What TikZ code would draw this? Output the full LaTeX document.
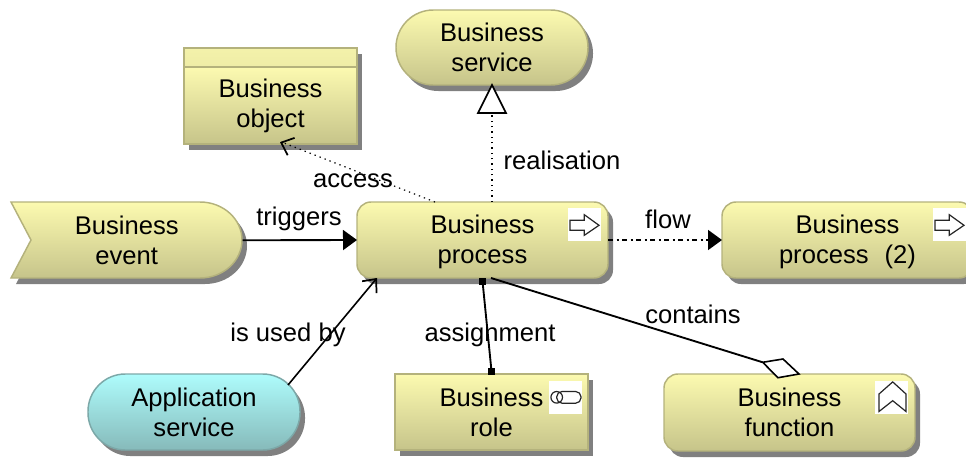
\documentclass[tikz,border=0pt]{standalone}
\usepackage{fontspec}
\setmainfont{Liberation Sans}
\usetikzlibrary{arrows.meta,shadows,calc}
\definecolor{yeltop}{HTML}{FCFAB0}
\definecolor{yelbot}{HTML}{C6C48A}
\definecolor{yeledge}{HTML}{B4B27C}
\definecolor{cyatop}{HTML}{AEFCFC}
\definecolor{cyabot}{HTML}{86BABA}
\definecolor{cyaedge}{HTML}{7CA8A8}
\definecolor{shadowgrey}{HTML}{808080}
\tikzset{
  txt/.style={font=\fontsize{19.2}{22.5}\selectfont, align=center, inner sep=0pt, text=black},
  boxbase/.style={txt, anchor=north west, outer sep=0pt, line width=1.1pt,
     general shadow={fill=shadowgrey, shadow xshift=3.75pt, shadow yshift=-4.5pt}},
  yelbox/.style={boxbase, draw=yeledge, top color=yeltop, bottom color=yelbot},
  roundbox/.style={yelbox, rounded corners=10.5pt},
  pillbox/.style={rounded corners=28pt},
  iconbg/.style={fill=white, draw=none},
  iconline/.style={draw=black!85, line width=0.9pt, line join=miter},
  conn/.style={draw=black, line width=1.4pt},
  dotconn/.style={draw=black, line width=0.9pt, dash pattern=on 1pt off 3pt},
  flowconn/.style={draw=black, line width=1.3pt, dash pattern=on 4pt off 2.5pt on 1.5pt off 2.5pt},
  solidtip/.style={-{Triangle[length=10.5pt,width=15pt]}},
  barbtip/.style={-{Straight Barb[length=8pt,width=14pt,line width=1.3pt]}},
  procicon/.pic={
    \fill[iconbg] (0,0) rectangle (33,33);
    \draw[iconline] (2,12.3)--(16.3,12.3)--(16.3,6.7)--(31,17.3)--(16.3,27.3)--(16.3,22.3)--(2,22.3)--cycle;
  },
  funcicon/.pic={
    \fill[iconbg] (0,0) rectangle (33,33);
    \draw[iconline] (4,30.5)--(4,13)--(17.7,0.9)--(31,13)--(31,30.5)--(17.7,19.7)--cycle;
  },
  roleicon/.pic={
    \fill[iconbg] (0,0) rectangle (33,33);
    \draw[iconline] (7.7,16.3) circle[radius=5.8];
    \draw[iconline, rounded corners=4pt] (7.7,10.5) rectangle (32,22.2);
  },
}
\begin{document}
\begin{tikzpicture}[x=0.75pt,y=-0.75pt]
\useasboundingbox (0,0) rectangle (966,457);
% Business event: drawn directly (notched shape)
\fill[shadowgrey] (16,208) -- (205,208) arc[start angle=-90,end angle=90,x radius=42,y radius=38] -- (16,284) -- (36,246) -- cycle;
\path[draw=yeledge, line width=1.1pt, top color=yeltop, bottom color=yelbot]
  (11,202) -- (200,202) arc[start angle=-90,end angle=90,x radius=42,y radius=38] -- (11,278) -- (31,240) -- cycle;
\node[txt, minimum width=173.25pt, minimum height=57pt, anchor=north west] (event) at (11,202) {Business\\event};
% boxes
\node[yelbox, top color=yeltop!85!yelbot, bottom color=yeltop!75!yelbot, minimum width=129.75pt, minimum height=14.25pt] (objecthead) at (184,48) {};
\node[yelbox, minimum width=129.75pt, minimum height=57.75pt] (object) at (184,67) {};
\path (object.center) ++(0,0) node[txt] (objecttext) {Business\\object};
\node[yelbox, pillbox, minimum width=144pt, minimum height=56.25pt] (service) at (396,10) {Business\\service};
\node[roundbox, minimum width=188.25pt, minimum height=57pt] (process) at (357,202) {};
\path (process.center) ++(0,2) node[txt] (processtext) {Business\\process};
\node[roundbox, minimum width=188.25pt, minimum height=57pt] (process2) at (722,202) {};
\path (process2.center) ++(0,2) node[txt] (process2text) {Business\\process\hspace{0.35em} (2)};
\node[boxbase, pillbox, draw=cyaedge, top color=cyatop, bottom color=cyabot, minimum width=159pt, minimum height=57pt] (app) at (88,374) {Application\\service};
\node[yelbox, minimum width=144.75pt, minimum height=57pt] (role) at (395,374) {Business\\role};
\node[roundbox, minimum width=188.25pt, minimum height=57.75pt] (function) at (664,374) {Business\\function};
% icons
\pic at (568,208) {procicon};
\pic at (933,208) {procicon};
\pic at (549,381) {roleicon};
\pic at (875,381) {funcicon};
% connectors
\draw[conn, solidtip] (event.east) -- (process.west);
\draw[flowconn, solidtip] (process.east) -- (process2.west);
\draw[dotconn] (process.north -| service.south) -- ($(service.south)+(0,28)$) coordinate (realtip);
\draw[draw=black, line width=1.3pt, fill=white, line join=miter] (realtip) ++(-14,0) -- (service.south) -- ($(realtip)+(14,0)$) -- cycle;
\draw[dotconn] ($(process.north west)+(78,0)$) -- ($(object.south west)+(100,-1)$);
\draw[barbtip, draw=black, line width=1pt] ($(object.south west)+(97,-1.5)$) -- ($(object.south west)+(96,-1.9)$);
\draw[conn, line width=1.2pt, barbtip] ($(app.north east)+(-12,11)$) -- ($(process.south west)+(20,0)$);
\draw[conn] ($(process.south)+(0,3)$) -- ($(role.north)+(0,-3)$);
\fill ($(process.south)+(-3.5,-0.5)$) rectangle ++(7,7);
\fill ($(role.north)+(-3.5,-6.5)$) rectangle ++(7,7);
\coordinate (diaL) at ($(function.north west)+(98.7,-11.7)$);
\draw[conn] ($(process.south west)+(134,0)$) -- (diaL);
\draw[draw=black, line width=1.2pt, fill=white, line join=miter] (diaL) -- ++(20.3,-3.3) -- ++(16,15) -- ++(-21,3.7) -- cycle;
% labels
\node[txt] (ltrig) at (299,219) {triggers};
\node[txt] (lflow) at (668,219) {flow};
\node[txt] (lacc) at (353,181) {access};
\node[txt] (lreal) at (562,160) {realisation};
\node[txt] (lused) at (288,335) {is used by};
\node[txt] (lassign) at (490,335) {assignment};
\node[txt] (lcont) at (693,314) {contains};
\end{tikzpicture}
\end{document}
